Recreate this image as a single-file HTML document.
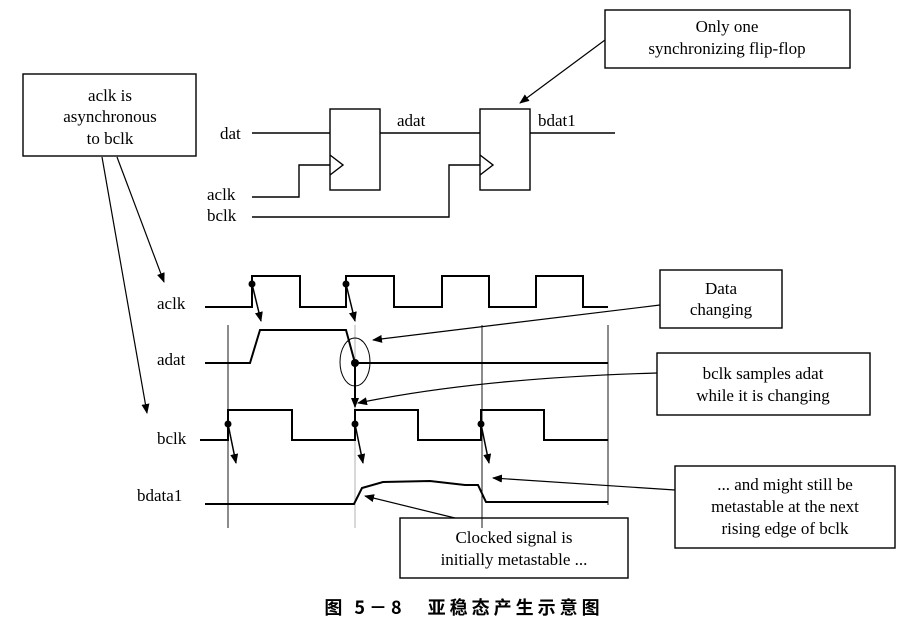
<!DOCTYPE html>
<html><head><meta charset="utf-8"><style>
html,body{margin:0;padding:0;background:#fff;}
svg{display:block}
text{font-family:"Liberation Serif","Noto Serif CJK SC",serif;font-size:17px;fill:#000}
</style></head><body>
<svg width="915" height="628" viewBox="0 0 915 628" xmlns="http://www.w3.org/2000/svg">
<defs><marker id="a" markerWidth="10" markerHeight="8" refX="9" refY="4" orient="auto" markerUnits="userSpaceOnUse"><path d="M0,0 L10,4 L0,8 z" fill="#000"/></marker></defs>
<g fill="none" stroke="#000" stroke-width="1.4">
<rect x="330" y="109" width="50" height="81"/>
<rect x="480" y="109" width="50" height="81"/>
<path d="M330,155 L343,165 L330,175"/>
<path d="M480,155 L493,165 L480,175"/>
<path d="M252,133 H330 M380,133 H480 M530,133 H615"/>
<path d="M252,197 H299 V165 H330"/>
<path d="M252,217 H449 V165 H480"/>
<rect x="23" y="74" width="173" height="82"/>
<rect x="605" y="10" width="245" height="58"/>
<rect x="660" y="270" width="122" height="58"/>
<rect x="657" y="353" width="213" height="62"/>
<rect x="675" y="466" width="220" height="82"/>
<rect x="400" y="518" width="228" height="60"/>
</g>
<g fill="none" stroke="#000" stroke-width="1.2">
<path d="M228,325 V528 M482,325 V528 M608,325 V505" stroke-width="0.9"/>
<path d="M355,325 V528" stroke="#aaa" stroke-width="0.9"/>
</g>
<g fill="none" stroke="#000" stroke-width="2">
<path d="M205,307 H252 V276 H300 V307 H346 V276 H394 V307 H442 V276 H489 V307 H536 V276 H583 V307 H608"/>
<path d="M205,363 H250 L260,330 H346 L355,363 H608"/>
<path d="M200,440 H228 V410 H292 V440 H355 V410 H418 V440 H481 V410 H544 V440 H608"/>
<path d="M205,504 H354 L362,488 L383,482 L430,481 L465,485 L478,485 L486,502 H608"/>
<path d="M355,363 V405"/>
</g>
<ellipse cx="355" cy="362" rx="15" ry="24" fill="none" stroke="#000" stroke-width="1"/>
<g fill="#000">
<circle cx="252" cy="284" r="3.5"/><circle cx="346" cy="284" r="3.5"/>
<circle cx="355" cy="363" r="4"/>
<circle cx="228" cy="424" r="3.5"/><circle cx="355" cy="424" r="3.5"/><circle cx="481" cy="424" r="3.5"/>
</g>
<g stroke="#000" stroke-width="1.5" fill="none" marker-end="url(#a)">
<path d="M252,284 L261,321"/><path d="M346,284 L355,321"/>
<path d="M228,424 L236,463"/><path d="M355,424 L363,463"/><path d="M481,424 L489,463"/>
<path d="M355,380 L355,407"/>
<path d="M102,157 L147,413" stroke-width="1.2"/>
<path d="M117,157 L164,282" stroke-width="1.2"/>
<path d="M605,40 L520,103" stroke-width="1.2"/>
<path d="M660,305 L373,340" stroke-width="1.2"/>
<path d="M657,373 Q480,378 358,403" stroke-width="1.2"/>
<path d="M675,490 L493,478" stroke-width="1.2"/>
<path d="M455,518 L365,496" stroke-width="1.2"/>
</g>
<g>
<text x="220" y="139">dat</text>
<text x="207" y="200">aclk</text>
<text x="207" y="221">bclk</text>
<text x="397" y="126">adat</text>
<text x="538" y="126">bdat1</text>
<text x="157" y="309">aclk</text>
<text x="157" y="365">adat</text>
<text x="157" y="444">bclk</text>
<text x="137" y="501">bdata1</text>
<g text-anchor="middle">
<text x="110" y="101">aclk is</text>
<text x="110" y="122">asynchronous</text>
<text x="110" y="144">to bclk</text>
<text x="727" y="32">Only one</text>
<text x="727" y="54">synchronizing flip-flop</text>
<text x="721" y="294">Data</text>
<text x="721" y="315">changing</text>
<text x="763" y="379">bclk samples adat</text>
<text x="763" y="401">while it is changing</text>
<text x="785" y="490">... and might still be</text>
<text x="785" y="512">metastable at the next</text>
<text x="785" y="534">rising edge of bclk</text>
<text x="514" y="543">Clocked signal is</text>
<text x="514" y="565">initially metastable ...</text>
<text x="464" y="614" style="font-family:'Noto Sans CJK SC',sans-serif;font-size:18px;font-weight:bold;letter-spacing:4px">图 5－8　亚稳态产生示意图</text>
</g>
</g>
</svg>
</body></html>
